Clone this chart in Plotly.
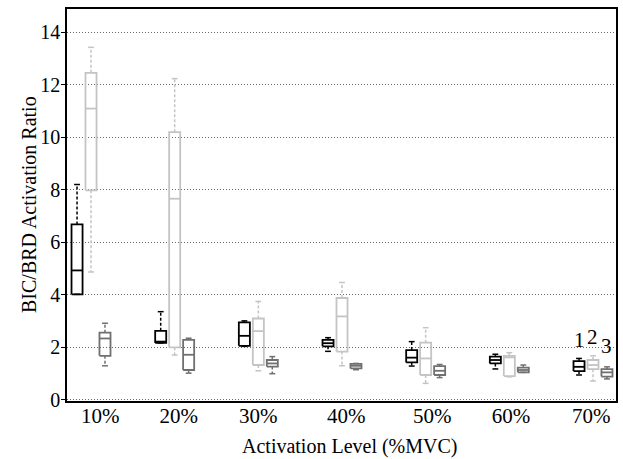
import plotly.graph_objects as go

# ---- data ----
levels = ["10%", "20%", "30%", "40%", "50%", "60%", "70%"]
tick_pos = [1.11, 2.05, 3.0, 4.05, 5.08, 6.02, 6.98]
series_names = ["1", "2", "3"]

s1_low = [4.02, 2.17, 2.04, 1.85, 1.29, 1.18, 0.95]
s1_q1 = [4.02, 2.17, 2.06, 2.04, 1.43, 1.39, 1.10]
s1_med = [4.93, 2.22, 2.44, 2.16, 1.61, 1.52, 1.26]
s1_q3 = [6.68, 2.63, 2.95, 2.29, 1.90, 1.65, 1.48]
s1_up = [8.20, 3.36, 3.01, 2.37, 2.22, 1.74, 1.58]

s2_low = [4.87, 1.71, 1.11, 1.30, 0.63, 0.88, 0.72]
s2_q1 = [7.98, 2.00, 1.33, 1.84, 0.95, 0.91, 1.17]
s2_med = [11.09, 7.66, 2.62, 3.18, 1.58, 1.62, 1.33]
s2_q3 = [12.45, 10.19, 3.10, 3.88, 2.18, 1.68, 1.52]
s2_up = [13.42, 12.23, 3.75, 4.47, 2.75, 1.80, 1.68]

s3_low = [1.30, 1.02, 1.00, 1.15, 0.85, 1.05, 0.80]
s3_q1 = [1.68, 1.14, 1.27, 1.20, 0.95, 1.05, 0.89]
s3_med = [2.34, 1.72, 1.39, 1.30, 1.11, 1.14, 1.05]
s3_q3 = [2.56, 2.29, 1.52, 1.37, 1.29, 1.23, 1.17]
s3_up = [2.92, 2.35, 1.65, 1.39, 1.35, 1.33, 1.26]

label_y = [2.30, 2.38, 2.04]
y_ticks = [0, 2, 4, 6, 8, 10, 12, 14]

# ---- style ----
colors = ["#000000", "#c4c4c4", "#707070"]
offsets = [-0.167, 0.0, 0.167]
half_w = 0.066
cap_w = 0.035

series = [
    (s1_low, s1_q1, s1_med, s1_q3, s1_up),
    (s2_low, s2_q1, s2_med, s2_q3, s2_up),
    (s3_low, s3_q1, s3_med, s3_q3, s3_up),
]

fig = go.Figure()

for si, (lo, q1, med, q3, up) in enumerate(series):
    col = colors[si]
    bx, by, wx, wy, cx, cy = [], [], [], [], [], []
    for gi in range(len(levels)):
        x = gi + 1 + offsets[si]
        bx += [x - half_w, x + half_w, x + half_w, x - half_w, x - half_w, None,
               x - half_w, x + half_w, None]
        by += [q1[gi], q1[gi], q3[gi], q3[gi], q1[gi], None,
               med[gi], med[gi], None]
        if up[gi] > q3[gi]:
            wx += [x, x, None]
            wy += [q3[gi], up[gi], None]
        if lo[gi] < q1[gi]:
            wx += [x, x, None]
            wy += [q1[gi], lo[gi], None]
        cx += [x - cap_w, x + cap_w, None, x - cap_w, x + cap_w, None]
        cy += [up[gi], up[gi], None, lo[gi], lo[gi], None]
    fig.add_trace(go.Scatter(x=wx, y=wy, mode="lines",
                             line=dict(color=col, width=1.5, dash="3px,2px"),
                             hoverinfo="skip"))
    fig.add_trace(go.Scatter(x=cx, y=cy, mode="lines",
                             line=dict(color=col, width=1.5), hoverinfo="skip"))
    fig.add_trace(go.Scatter(x=bx, y=by, mode="lines",
                             line=dict(color=col, width=1.8), hoverinfo="skip"))

for si, name in enumerate(series_names):
    fig.add_annotation(x=len(levels) + offsets[si], y=label_y[si], text=name,
                       showarrow=False, font=dict(size=21, color="black"),
                       xanchor="center", yanchor="middle")

# axis titles
fig.add_annotation(text="Activation Level (%MVC)", xref="paper", yref="paper",
                   x=0.515, y=0, yshift=-45, showarrow=False,
                   xanchor="center", yanchor="middle", font=dict(size=20))
fig.add_annotation(text="BIC/BRD Activation Ratio", xref="paper", yref="paper",
                   x=0, xshift=-38, y=0.5, textangle=-90, showarrow=False,
                   xanchor="center", yanchor="middle", font=dict(size=20))

fig.update_layout(
    width=623, height=459,
    margin=dict(l=67, r=7, t=9, b=58, autoexpand=False),
    plot_bgcolor="white", paper_bgcolor="white",
    showlegend=False,
    font=dict(family="Liberation Serif", size=20, color="black"),
)
fig.update_xaxes(
    range=[0.713, 7.275], automargin=False,
    tickvals=tick_pos, ticktext=levels,
    showgrid=False, zeroline=False,
    showline=True, linecolor="black", linewidth=1.6, mirror=True,
    ticks="", ticklabelstandoff=-5,
    tickfont=dict(size=21),
)
fig.update_yaxes(
    range=[-0.04, 14.88], automargin=False,
    tickvals=y_ticks,
    showgrid=True, gridcolor="#6a6a6a", griddash="1px,2px", gridwidth=1,
    zeroline=False,
    showline=True, linecolor="black", linewidth=1.6, mirror=True,
    ticks="outside", ticklen=4, tickcolor="black",
    ticklabelstandoff=-3,
    tickfont=dict(size=20),
)

fig.write_html("out.html", config={"displayModeBar": False},
               post_script="document.body.style.margin='0px';document.body.style.overflow='hidden';")
